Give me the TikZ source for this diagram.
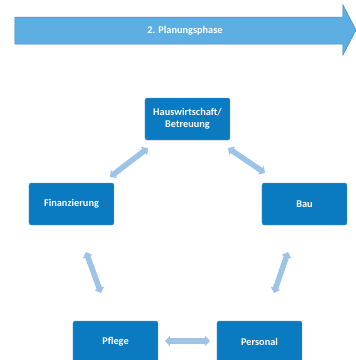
\documentclass[tikz,border=0pt]{standalone}
\usepackage{fontspec}
\setmainfont{Carlito}
\usetikzlibrary{arrows.meta}
\definecolor{boxblue}{HTML}{0B7BC1}
\definecolor{phaseblue}{HTML}{5CAEE3}
\definecolor{phaseedge}{HTML}{3D8CC6}
\definecolor{linkblue}{HTML}{9DC3E6}
\tikzset{
  topic/.style={fill=boxblue, draw=boxblue!70!white, line width=0.4pt, rounded corners=2pt,
    minimum width=85pt, minimum height=42pt, inner sep=0pt, text=white,
    font=\fontsize{10.3}{12.5}\selectfont\bfseries, align=center},
  link/.style={draw=linkblue, line width=5.5pt,
    {Triangle[width=10pt,length=5pt]}-{Triangle[width=10pt,length=5pt]}}
}
\begin{document}
\begin{tikzpicture}[x=1pt,y=-1pt]
\useasboundingbox (0,0) rectangle (356,360);
% phase arrow
\draw[fill=phaseblue, draw=phaseedge, line width=0.5pt]
  (15,17) -- (343,17) -- (343,5) -- (356,30) -- (343,55) -- (343,44) -- (15,44) -- cycle;
\node[text=white, font=\fontsize{10.3}{12.5}\selectfont\bfseries] (phase) at (185,30.5) {2. Planungsphase};
% topic boxes
\node[topic] (hw)  at (187.5,119) {Hauswirtschaft/\\Betreuung};
\node[topic] (fin) at (71.5,204) {Finanzierung};
\node[topic] (bau) at (304.5,204) {Bau};
\node[topic] (pfl) at (115.5,342) {Pflege};
\node[topic] (per) at (259.5,342) {Personal};
% link end points
\coordinate (a1) at (110,177); \coordinate (a2) at (148,148);
\coordinate (b1) at (228,148); \coordinate (b2) at (265,173);
\coordinate (c1) at (86,252);  \coordinate (c2) at (101,293);
\coordinate (d1) at (288,252); \coordinate (d2) at (274,293);
\coordinate (e1) at (165,341); \coordinate (e2) at (210,341);
\draw[link] (a1) -- (a2);
\draw[link] (b1) -- (b2);
\draw[link] (c1) -- (c2);
\draw[link] (d1) -- (d2);
\draw[link] (e1) -- (e2);
\end{tikzpicture}
\end{document}
